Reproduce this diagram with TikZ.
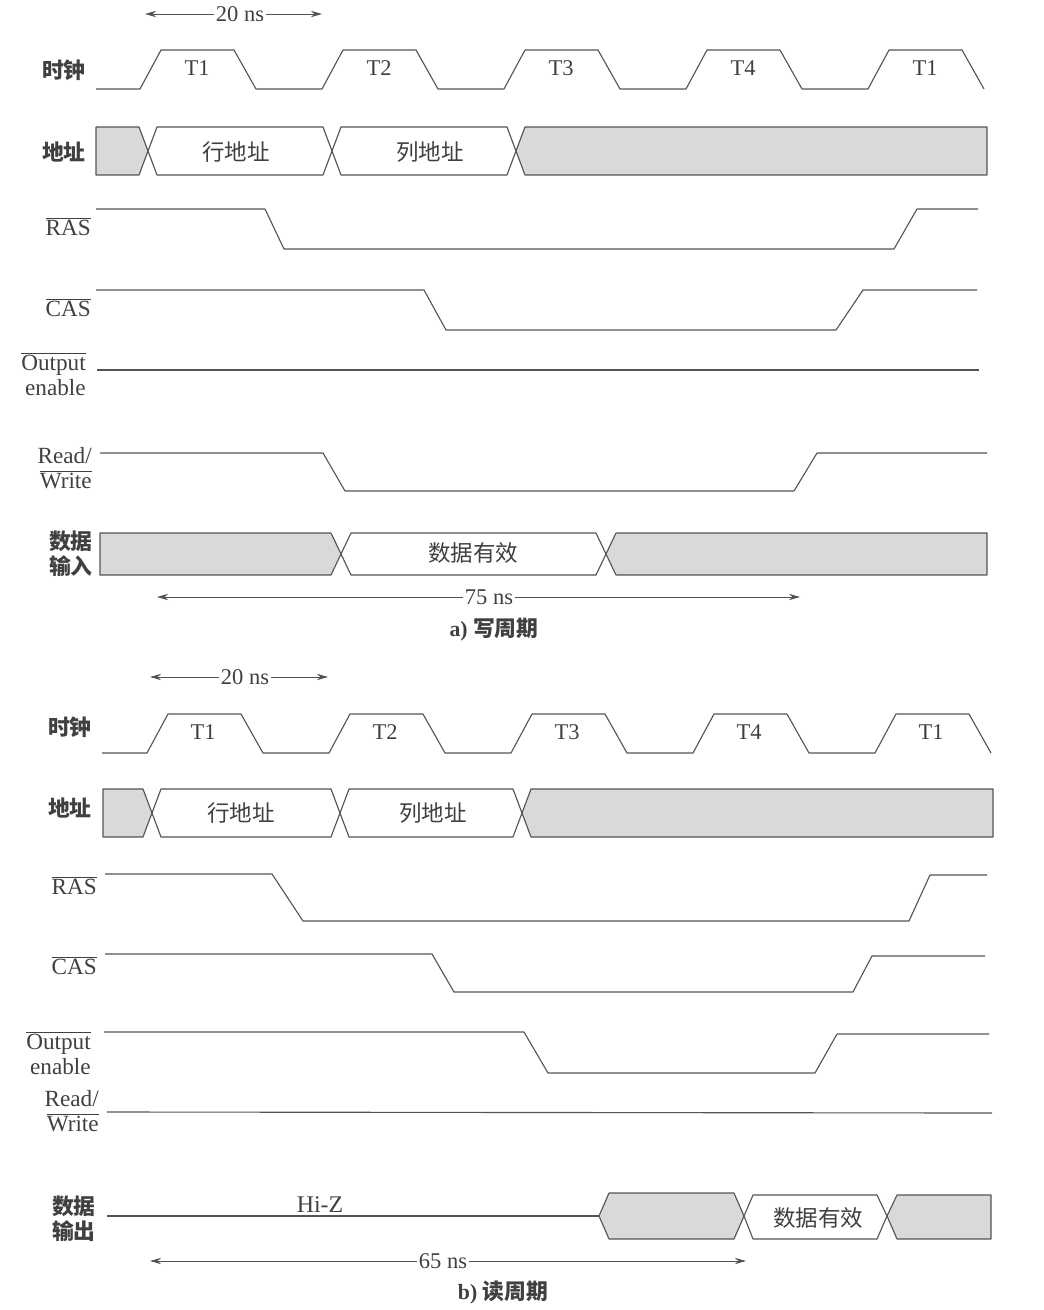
\documentclass[tikz,border=0pt]{standalone}
\usepackage{fontspec}
\setmainfont{Liberation Serif}
\newfontfamily\cjk{Noto Sans CJK SC}
\usepackage{xcolor}
\usepackage{tikz}
\usetikzlibrary{arrows.meta,positioning}
\definecolor{linecol}{gray}{0.33}
\definecolor{txtcol}{gray}{0.25}
\definecolor{busgray}{gray}{0.85}

\begin{document}
\begin{tikzpicture}[x=0.025cm,y=-0.025cm,
sig/.style={draw=linecol,line width=0.8pt,line join=round},
bus/.style={sig,fill=busgray},
signame/.style={anchor=east,align=right,inner sep=0pt,text=txtcol,
font=\fontsize{16.5}{18}\selectfont},
cname/.style={signame,font=\cjk\bfseries\fontsize{15.5}{18}\selectfont},
ticklbl/.style={inner sep=1pt,text=txtcol,font=\fontsize{16}{17}\selectfont},
nslbl/.style={ticklbl,font=\fontsize{16}{17}\selectfont},
busl/.style={inner sep=0pt,text=txtcol,font=\cjk\fontsize{16}{18}\selectfont},
dimarrow/.style={-{Stealth[length=2.8mm,width=1.6mm]},draw=linecol,line width=0.6pt},
captxt/.style={text=txtcol,font=\bfseries\fontsize{15.5}{17}\selectfont}]
\useasboundingbox (0,0) rectangle (1044,1310);

% ---------- a) write cycle ----------
\node[nslbl] (nsA) at (240,14) {20 ns};
\coordinate (nsAL) at (145,14);
\coordinate (nsAR) at (322,14);
\draw[dimarrow] (nsA) -- (nsAL);
\draw[dimarrow] (nsA) -- (nsAR);

\node[cname] (clkA) at (86,70) {时钟};
\draw[sig] (96,89) foreach \k in {0,...,4} {
  -- ({140+182*\k},89) -- ++(21,-39) -- ++(73,0) -- ++(22,39) };
\foreach \t [count=\i from 0] in {T1,T2,T3,T4,T1}
  \node[ticklbl] (tA\i) at ({197+182*\i},68) {\t};

\node[cname] (addrA) at (86,152) {地址};
\draw[bus] (96,127) -- (139,127) -- (148,151) -- (139,175) -- (96,175) -- cycle;
\draw[sig,fill=white] (148,151) -- (157,127) -- (323,127) -- (332,151) -- (323,175) -- (157,175) -- cycle;
\draw[sig,fill=white] (332,151) -- (341,127) -- (507,127) -- (516,151) -- (507,175) -- (341,175) -- cycle;
\draw[bus] (516,151) -- (525,127) -- (987,127) -- (987,175) -- (525,175) -- cycle;
\node[busl] (rowA) at (236,152) {行地址};
\node[busl] (colA) at (430,152) {列地址};

\node[signame] (rasA) at (91,227) {$\overline{\mbox{RAS}}$};
\draw[sig] (96,209) -- (265,209) -- (284,249) -- (894,249) -- (917,209) -- (978,209);

\node[signame] (casA) at (91,308) {$\overline{\mbox{CAS}}$};
\draw[sig] (96,290) -- (424,290) -- (446,330) -- (836,330) -- (863,290) -- (977,290);

\node[signame] (oeA) at (86,374) {$\overline{\mbox{Output}}$\\enable};
\draw[sig] (97,370) -- (979,370);

\node[signame] (rwA) at (92,468) {Read/\\$\overline{\mbox{Write}}$};
\draw[sig] (100,453) -- (323,453) -- (345,491) -- (794,491) -- (817,453) -- (987,453);

\node[cname] (dinA) at (93,554) {数据\\输入};
\draw[bus] (100,533) -- (331,533) -- (341,554) -- (331,575) -- (100,575) -- cycle;
\draw[sig,fill=white] (341,554) -- (351,533) -- (596,533) -- (606,554) -- (596,575) -- (351,575) -- cycle;
\draw[bus] (606,554) -- (616,533) -- (987,533) -- (987,575) -- (616,575) -- cycle;
\node[busl] (validA) at (473,553) {数据有效};

\node[nslbl] (nsB) at (489,597) {75 ns};
\coordinate (nsBL) at (157,597);
\coordinate (nsBR) at (800,597);
\draw[dimarrow] (nsB) -- (nsBL);
\draw[dimarrow] (nsB) -- (nsBR);

\node[captxt] (capA) at (494,630) {a) {\cjk 写周期}};

% ---------- b) read cycle ----------
\node[nslbl] (nsC) at (245,677) {20 ns};
\coordinate (nsCL) at (150,677);
\coordinate (nsCR) at (328,677);
\draw[dimarrow] (nsC) -- (nsCL);
\draw[dimarrow] (nsC) -- (nsCR);

\node[cname] (clkB) at (92,727) {时钟};
\draw[sig] (102,753) foreach \k in {0,...,4} {
  -- ({147+182*\k},753) -- ++(21,-39) -- ++(73,0) -- ++(22,39) };
\foreach \t [count=\i from 0] in {T1,T2,T3,T4,T1}
  \node[ticklbl] (tB\i) at ({203+182*\i},732) {\t};

\node[cname] (addrB) at (92,808) {地址};
\draw[bus] (103,789) -- (143,789) -- (152,813) -- (143,837) -- (103,837) -- cycle;
\draw[sig,fill=white] (152,813) -- (161,789) -- (331,789) -- (340,813) -- (331,837) -- (161,837) -- cycle;
\draw[sig,fill=white] (340,813) -- (349,789) -- (513,789) -- (522,813) -- (513,837) -- (349,837) -- cycle;
\draw[bus] (522,813) -- (531,789) -- (993,789) -- (993,837) -- (531,837) -- cycle;
\node[busl] (rowB) at (241,813) {行地址};
\node[busl] (colB) at (433,813) {列地址};

\node[signame] (rasB) at (97,886) {$\overline{\mbox{RAS}}$};
\draw[sig] (105,874) -- (272,874) -- (303,921) -- (909,921) -- (930,875) -- (987,875);

\node[signame] (casB) at (97,966) {$\overline{\mbox{CAS}}$};
\draw[sig] (105,954) -- (432,954) -- (454,992) -- (853,992) -- (872,956) -- (985,956);

\node[signame] (oeB) at (91,1053) {$\overline{\mbox{Output}}$\\enable};
\draw[sig] (104,1032) -- (524,1032) -- (548,1073) -- (815,1073) -- (837,1034) -- (989,1034);

\node[signame] (rwB) at (99,1111) {Read/\\$\overline{\mbox{Write}}$};
\draw[sig] (107,1112) -- (992,1113);

\node[cname] (doutB) at (96,1219) {数据\\输出};
\draw[sig] (107,1216) -- (599,1216);
\node[ticklbl,anchor=south,inner sep=2pt,font=\fontsize{17}{18}\selectfont] (hiz) at (320,1216) {Hi-Z};
\draw[bus] (599,1216) -- (609,1193) -- (734,1193) -- (744,1216) -- (734,1239) -- (609,1239) -- cycle;
\draw[sig,fill=white] (744,1216) -- (753,1195) -- (877,1195) -- (887,1216) -- (877,1239) -- (753,1239) -- cycle;
\draw[bus] (887,1216) -- (897,1195) -- (991,1195) -- (991,1239) -- (897,1239) -- cycle;
\node[busl] (validB) at (818,1218) {数据有效};

\node[nslbl] (nsD) at (443,1261) {65 ns};
\coordinate (nsDL) at (150,1261);
\coordinate (nsDR) at (746,1261);
\draw[dimarrow] (nsD) -- (nsDL);
\draw[dimarrow] (nsD) -- (nsDR);

\node[captxt] (capB) at (503,1292) {b) {\cjk 读周期}};
\end{tikzpicture}
\end{document}
